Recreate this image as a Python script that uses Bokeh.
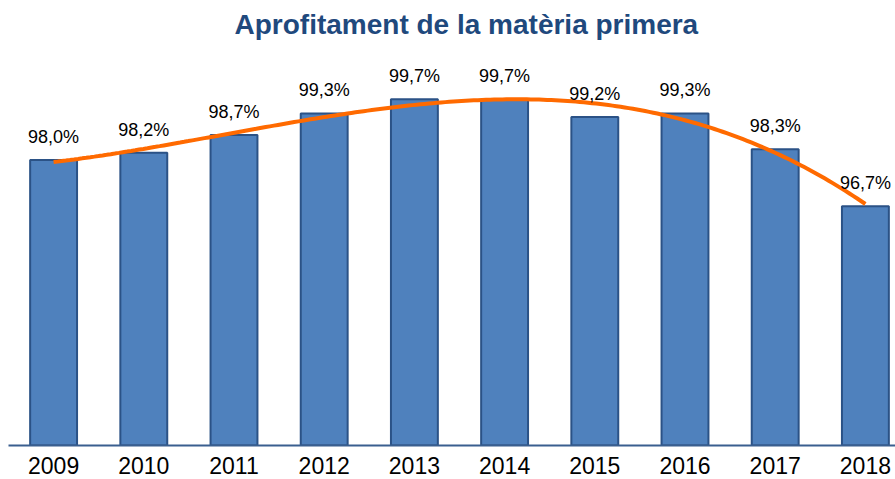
import numpy as np
from bokeh.plotting import figure
from bokeh.models import ColumnDataSource, Range1d, FixedTicker, LabelSet
from bokeh.core.properties import value
from bokeh.embed import file_html
from bokeh.resources import INLINE

years = [2009, 2010, 2011, 2012, 2013, 2014, 2015, 2016, 2017, 2018]
values = [98.0, 98.2, 98.7, 99.3, 99.7, 99.7, 99.2, 99.3, 98.3, 96.7]
labels = ["98,0%", "98,2%", "98,7%", "99,3%", "99,7%", "99,7%", "99,2%", "99,3%", "98,3%", "96,7%"]
title_text = "Aprofitament  de la matèria primera"

src = ColumnDataSource(dict(x=years, top=values, lab=labels))

FW, FH = 887, 406
p = figure(frame_width=FW, frame_height=FH, output_backend="svg", toolbar_location=None,
           x_range=Range1d(2008.5, 2008.5 + FW / 90.2), y_range=Range1d(90, 90 + FH / 35.7),
           y_axis_location=None, min_border_left=8, min_border_right=0,
           min_border_top=39, min_border_bottom=34, title=title_text)
p.title.text_font = "Liberation Sans"
p.title.text_font_size = "28px"
p.title.text_font_style = "bold"
p.title.text_color = "#1F497D"
p.title.align = "left"
p.title.offset = 226
p.title.standoff = 0
p.outline_line_color = None
p.grid.visible = False
p.background_fill_color = "white"
p.border_fill_color = "white"

p.vbar(x="x", top="top", bottom=90, width=0.52, source=src,
       fill_color="#4F81BD", line_color="#2B5286", line_width=2)

coef = np.polyfit(years, values, 4)
xs = np.linspace(years[0], years[-1], 200)
p.line(xs, np.polyval(coef, xs), line_color="#FF6A00", line_width=4)

p.add_layout(LabelSet(x="x", y="top", text="lab", source=src, y_offset=17,
                      text_align="center", text_baseline="alphabetic",
                      text_font=value("Liberation Sans"), text_font_size="18px",
                      text_color="black"))

ax = p.xaxis[0]
ax.ticker = FixedTicker(ticks=years)
ax.major_label_overrides = {y: str(y) for y in years}
ax.major_label_text_font = "Liberation Sans"
ax.major_label_text_font_size = "23px"
ax.major_label_text_color = "black"
ax.major_label_standoff = 11
ax.major_tick_out = 0
ax.major_tick_in = 0
ax.major_tick_line_color = None
ax.minor_tick_line_color = None
ax.axis_line_color = "#3A5F8F"
ax.axis_line_width = 2

open("out.html", "w").write(file_html(p, INLINE))
